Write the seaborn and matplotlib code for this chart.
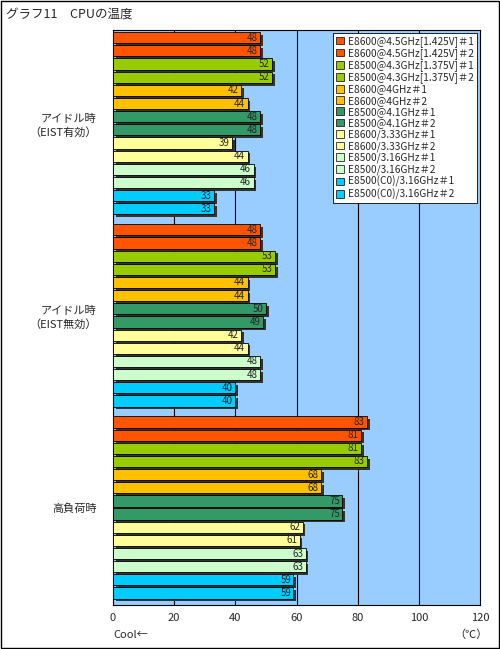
import matplotlib
matplotlib.use("Agg")
import matplotlib.pyplot as plt
import matplotlib.patheffects as pe
import seaborn as sns
import numpy as np

sns.set_style("white")
plt.rcParams['font.family'] = ['Noto Sans CJK JP', 'DejaVu Sans']

groups = ["アイドル時\n（EIST有効）", "アイドル時\n（EIST無効）", "高負荷時"]
series = ["E8600@4.5GHz[1.425V]＃1", "E8600@4.5GHz[1.425V]＃2",
          "E8500@4.3GHz[1.375V]＃1", "E8500@4.3GHz[1.375V]＃2",
          "E8600@4GHz＃1", "E8600@4GHz＃2",
          "E8500@4.1GHz＃1", "E8500@4.1GHz＃2",
          "E8600/3.33GHz＃1", "E8600/3.33GHz＃2",
          "E8500/3.16GHz＃1", "E8500/3.16GHz＃2",
          "E8500(C0)/3.16GHz＃1", "E8500(C0)/3.16GHz＃2"]
colors = ["#FF5500", "#FF5500", "#99CC00", "#99CC00", "#FFC000", "#FFC000",
          "#339966", "#339966", "#FFFF99", "#FFFF99", "#CCFFCC", "#CCFFCC",
          "#00CCFF", "#00CCFF"]
idle_eist = [48, 48, 52, 52, 42, 44, 48, 48, 39, 44, 46, 46, 33, 33]
idle_noeist = [48, 48, 53, 53, 44, 44, 50, 49, 42, 44, 48, 48, 40, 40]
load = [83, 81, 81, 83, 68, 68, 75, 75, 62, 61, 63, 63, 59, 59]
values = [idle_eist, idle_noeist, load]

fig = plt.figure(figsize=(5, 6.49), dpi=100)
ax = fig.add_axes([0.226, 0.068, 0.734, 0.886])
ax.set_facecolor("#99CCFF")

n = len(series)
shadow = [pe.SimplePatchShadow(offset=(2, -2), shadow_rgbFace="#333333", alpha=1), pe.Normal()]
centers = []
for g, vals in enumerate(values):
    ys = g * (n + 0.6) + np.arange(n)
    centers.append(ys.mean())
    bars = ax.barh(ys, vals, height=0.85, color=colors, edgecolor="black", linewidth=0.6, zorder=3)
    for b in bars:
        b.set_path_effects(shadow)
    for y, v in zip(ys, vals):
        ax.text(v - 0.8, y, str(v), ha="right", va="center", fontsize=7, zorder=4)

ax.set_ylim(3 * (n + 0.6) - 0.7, -0.6)
ax.set_xlim(0, 120)
ax.set_xticks(range(0, 121, 20))
ax.set_yticks(centers)
ax.set_yticklabels(groups, fontsize=8, linespacing=1.4)
ax.tick_params(axis="x", labelsize=8, length=0, pad=6)
ax.tick_params(axis="y", length=0, pad=12)
for x in range(20, 120, 20):
    ax.axvline(x, color="black", lw=0.8, zorder=1)
for s in ax.spines.values():
    s.set_color("black")
    s.set_linewidth(0.8)

handles = [plt.Rectangle((0, 0), 1, 1, facecolor=c, edgecolor="black", lw=0.5) for c in colors]
leg = ax.legend(handles, series, loc="upper right", fontsize=7.3, frameon=True, fancybox=False,
                framealpha=1, facecolor="white",
                edgecolor="black", handlelength=0.8, handleheight=0.8, handletextpad=0.4,
                labelspacing=0.12, borderaxespad=0.3, borderpad=0.3)
leg.get_frame().set_linewidth(0.6)

fig.text(0.012, 0.978, "グラフ11　CPUの温度", fontsize=9, va="center")
fig.text(0.226, 0.022, "Cool←", fontsize=8, va="center")
fig.text(0.975, 0.022, "（℃）", fontsize=8, va="center", ha="right")
fig.patches.append(plt.Rectangle((0.002, 0.002), 0.996, 0.996, transform=fig.transFigure,
                                 fill=False, edgecolor="black", lw=1))
fig.savefig("out.png", dpi=100, facecolor="white")
